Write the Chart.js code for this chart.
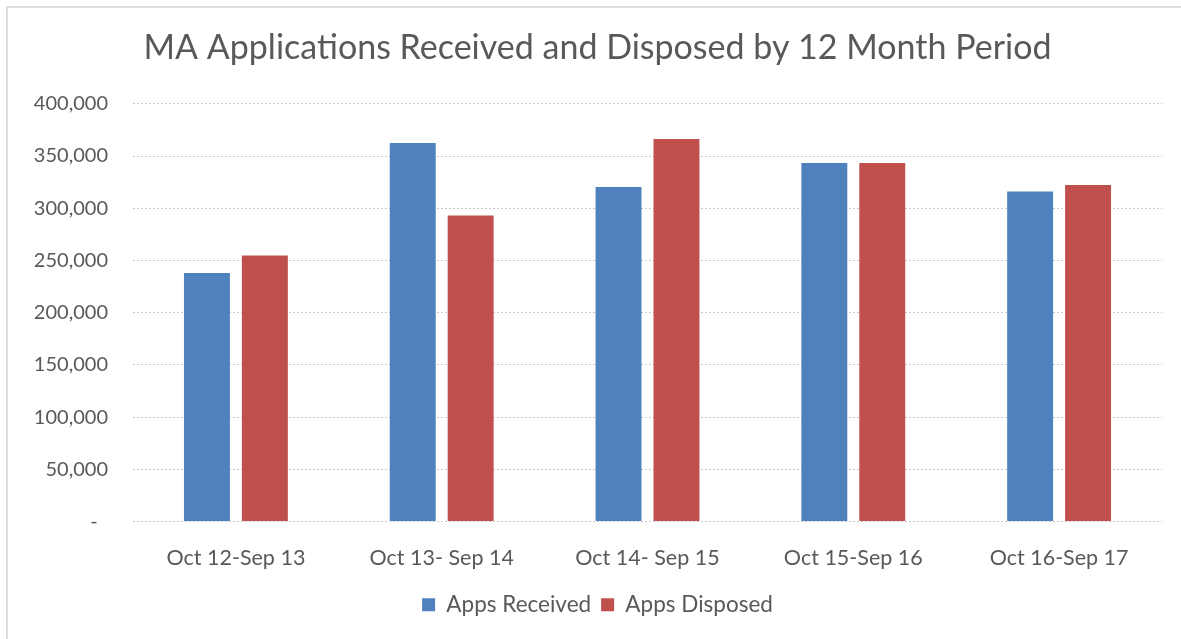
<!DOCTYPE html>
<html>
<head>
<meta charset="utf-8">
<script src="https://cdn.jsdelivr.net/npm/chart.js@4.4.1/dist/chart.umd.min.js"></script>
<style>
  html, body { margin: 0; padding: 0; background: #fff; overflow: hidden; }
  #frame { position: absolute; left: 6px; top: 6px; width: 1175px; height: 633px;
           border-left: 2px solid #dcdcdc; border-top: 2px solid #dcdcdc; }
  #myChart { position: absolute; left: 0; top: 0; }
</style>
</head>
<body>
<div id="frame"></div>
<canvas id="myChart" width="1181" height="639"></canvas>
<script>
// data
const periods = ['Oct 12-Sep 13', 'Oct 13- Sep 14', 'Oct 14- Sep 15', 'Oct 15-Sep 16', 'Oct 16-Sep 17'];
const appsReceived = [238000, 362400, 320300, 343200, 316100];
const appsDisposed = [254800, 293100, 366200, 343200, 322200];
const yMin = 0, yMax = 400000, yStep = 50000;

const txt = '#595959';
const fnt = 'Lato, "Open Sans", sans-serif';

var ctx = document.getElementById('myChart').getContext('2d');
var myChart = new Chart(ctx, {
    type: 'bar',
    data: {
        labels: periods,
        datasets: [{
            label: 'Apps Received',
            data: appsReceived,
            backgroundColor: '#4F81BD',
            categoryPercentage: 0.563,
            barPercentage: 0.793
        }, {
            label: 'Apps Disposed',
            data: appsDisposed,
            backgroundColor: '#C0504D',
            categoryPercentage: 0.563,
            barPercentage: 0.793
        }]
    },
    options: {
        responsive: false,
        animation: false,
        devicePixelRatio: 1,
        layout: { padding: { left: 14, right: 0, top: 0, bottom: 13 } },
        plugins: {
            title: {
                display: true,
                text: 'MA Applications Received and Disposed by 12 Month Period',
                color: txt,
                font: { family: fnt, size: 34, weight: 'normal' },
                padding: { top: 28, bottom: 35 }
            },
            legend: {
                position: 'bottom',
                labels: {
                    color: txt,
                    font: { family: fnt, size: 22.5 },
                    boxWidth: 13,
                    boxHeight: 13,
                    padding: 10
                }
            },
            tooltip: { enabled: false }
        },
        scales: {
            x: {
                afterFit: function(s) { s.height = 62; },
                grid: { display: false },
                border: { display: false },
                ticks: { color: txt, font: { family: fnt, size: 21.5 }, padding: 16, maxRotation: 0 }
            },
            y: {
                min: yMin,
                max: yMax,
                afterFit: function(s) { s.width = 119; },
                grid: { color: '#c8c8c8', lineWidth: 1, tickLength: 0 },
                border: { display: false, dash: [2, 2] },
                ticks: {
                    stepSize: yStep,
                    color: txt,
                    padding: 25,
                    font: { family: fnt, size: 20 },
                    // accounting style: zero shows as a dash
                    callback: function(v) { return v === 0 ? '-  ' : v.toLocaleString('en-US'); }
                }
            },
            // empty right-hand spacer so the plot ends where the reference's does
            yRight: {
                position: 'right',
                min: yMin,
                max: yMax,
                afterFit: function(s) { s.width = 19; },
                grid: { display: false },
                border: { display: false },
                ticks: { display: false }
            }
        }
    }
});
</script>
</body>
</html>
